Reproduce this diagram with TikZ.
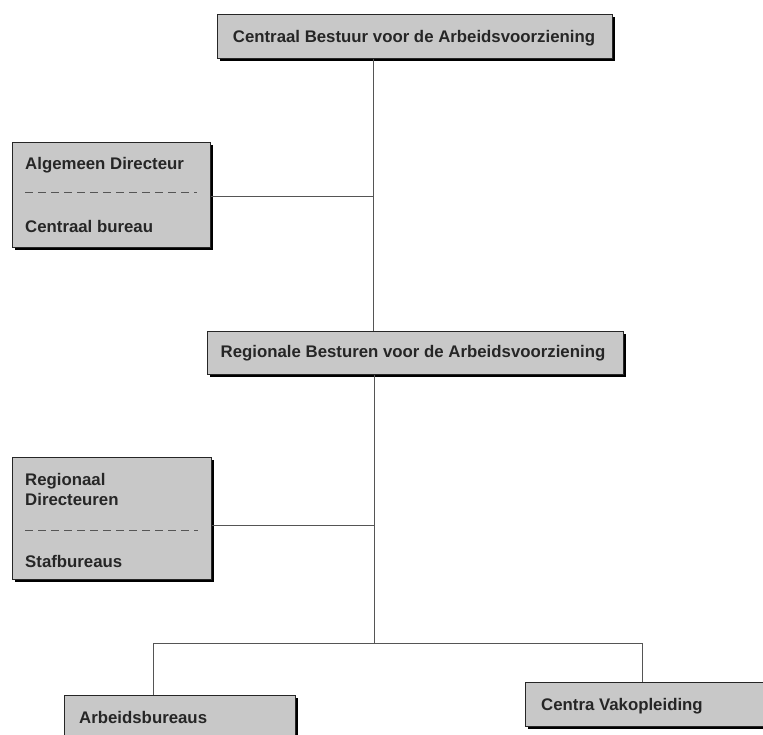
\documentclass[tikz,border=0pt]{standalone}
\usepackage{fontspec}
\setmainfont{Liberation Sans}
\usetikzlibrary{shadows}
\definecolor{boxgray}{HTML}{C8C8C8}
\definecolor{txtgray}{HTML}{262626}
\definecolor{linegray}{HTML}{555555}
\begin{document}
\begin{tikzpicture}[x=1pt,y=-1pt,
  box/.style={draw=black!85, line width=0.9pt, fill=boxgray, anchor=north west, inner sep=0pt,
    general shadow={fill=black, shadow xshift=2.5pt, shadow yshift=-2.5pt}},
  lbl/.style={font=\bfseries\fontsize{16.8}{18}\selectfont, text=txtgray, inner sep=0pt},
  conn/.style={draw=linegray, line width=0.9pt},
  dashline/.style={draw=linegray, line width=0.9pt, dash pattern=on 8pt off 5pt}]
\useasboundingbox[fill=white] (0,0) rectangle (763,734);

% boxes
\node[box, minimum width=395pt, minimum height=44pt] (top) at (217,14) {};
\node[box, minimum width=198pt, minimum height=105pt] (left1) at (12,142) {};
\node[box, minimum width=416pt, minimum height=43pt] (mid) at (207,331) {};
\node[box, minimum width=199pt, minimum height=122pt] (left2) at (12,457) {};
\node[box, minimum width=231pt, minimum height=70pt] (arb) at (64,695) {};
\node[box, minimum width=250pt, minimum height=44pt] (cv) at (525,682) {};

% texts
\node[lbl, anchor=base] (ttop) at (414,42) {Centraal Bestuur voor de Arbeidsvoorziening};
\node[lbl, anchor=base west] (tl1a) at (25,169) {Algemeen Directeur};
\node[lbl, anchor=base west] (tl1b) at (25,232) {Centraal bureau};
\node[lbl, anchor=base] (tmid) at (413,357) {Regionale Besturen voor de Arbeidsvoorziening};
\node[lbl, anchor=base west] (tl2a) at (25,485) {Regionaal};
\node[lbl, anchor=base west] (tl2b) at (25,505) {Directeuren};
\node[lbl, anchor=base west] (tl2c) at (25,567) {Stafbureaus};
\node[lbl, anchor=base west] (tarb) at (79,723) {Arbeidsbureaus};
\node[lbl, anchor=base west] (tcv) at (541,710) {Centra Vakopleiding};

% dashed separators
\draw[dashline] (25,192) -- (197,192);
\draw[dashline] (25,530) -- (198,530);

% connectors
\coordinate (j1) at (373,196);
\coordinate (j2) at (374,525);
\coordinate (hub) at (374,643);
\draw[conn] (top.south -| j1) -- (mid.north -| j1);
\draw[conn] (left1.east |- j1) -- (j1);
\draw[conn] (mid.south -| hub) -- (hub);
\draw[conn] (left2.east |- j2) -- (j2);
\draw[conn] (hub) -| ([xshift=-26.5pt]arb.north);
\draw[conn] (hub) -| ([xshift=-8pt]cv.north);
\end{tikzpicture}
\end{document}
